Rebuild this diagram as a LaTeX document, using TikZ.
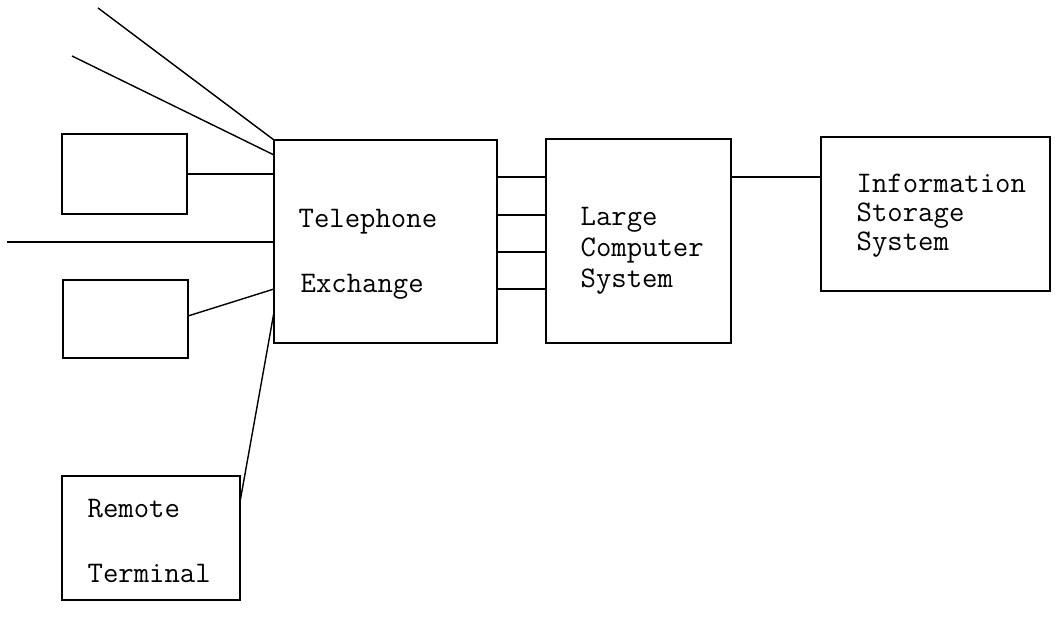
\documentclass[tikz,border=0pt]{standalone}
\usepackage{tikz}

\begin{document}
\begin{tikzpicture}[x=0.02cm, y=-0.02cm, line width=0.8pt,
  every node/.style={font=\ttfamily\fontsize{17}{20}\selectfont},
  unit/.style={draw, rectangle, inner sep=0pt, outer sep=0pt},
  txt/.style={anchor=base west, inner sep=0pt}]
\useasboundingbox (0,0) rectangle (1059,618);
% Subscriber sets and remote terminal (left)
\node[unit, minimum width=2.5cm, minimum height=1.6cm] (set1) at (124.5,174) {};
\node[unit, minimum width=2.5cm, minimum height=1.56cm] (set2) at (125.5,319) {};
\node[unit, minimum width=3.56cm, minimum height=2.48cm] (remote) at (151,538) {};
\node[txt] (remote1) at (87,517) {Remote};
\node[txt] (remote2) at (87,582) {Terminal};
% Telephone exchange
\node[unit, minimum width=4.46cm, minimum height=4.06cm] (exch) at (385.5,241.5) {};
\node[txt] (exch1) at (298,228) {Telephone};
\node[txt] (exch2) at (300,293) {Exchange};
% Large computer system
\node[unit, minimum width=3.7cm, minimum height=4.08cm] (comp) at (638.5,241) {};
\node[txt] (comp1) at (580,226) {Large};
\node[txt] (comp2) at (580,257) {Computer};
\node[txt] (comp3) at (580,288) {System};
% Information storage system
\node[unit, minimum width=4.58cm, minimum height=3.08cm] (info) at (935.5,214) {};
\node[txt] (info1) at (856,193) {Information};
\node[txt] (info2) at (856,222) {Storage};
\node[txt] (info3) at (856,251) {System};
% Incoming lines
\coordinate (feed1) at (98,8);
\coordinate (feed2) at (72,56);
\coordinate (feed3) at (7,242);
\draw (feed1) -- (exch.north west);
\draw (feed2) -- (exch.west |- 0,155);
\draw (set1.east) -- (exch.west |- set1.east);
\draw (feed3) -- (exch.west |- feed3);
\draw (set2.east |- 0,316) -- (exch.west |- 0,289);
\draw (remote.east |- 0,502) -- (exch.west |- 0,312);
% Trunks to the computer
\foreach \y in {177,215,252,289}
  \draw (exch.east |- 0,\y) -- (comp.west |- 0,\y);
\draw (comp.east |- 0,177) -- (info.west |- 0,177);
\end{tikzpicture}
\end{document}
